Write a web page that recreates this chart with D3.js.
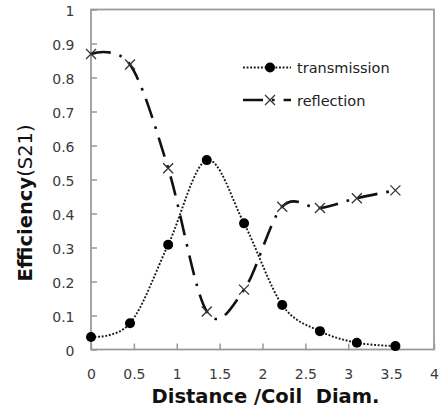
<!DOCTYPE html>
<html>
<head>
<meta charset="utf-8">
<script src="https://cdn.jsdelivr.net/npm/d3@7"></script>
<style>
  html, body { margin: 0; padding: 0; background: #fff; }
  svg { display: block; font-family: "DejaVu Sans", Verdana, sans-serif; }
</style>
</head>
<body>
<svg id="chart" width="440" height="409"></svg>
<script>
// Distance between coils, normalised by coil diameter
const distance = [0, 0.455, 0.9, 1.35, 1.785, 2.23, 2.67, 3.1, 3.55];
// Efficiency of each path at those distances
const transmission = [0.037, 0.077, 0.308, 0.557, 0.371, 0.131, 0.054, 0.02, 0.01];
const reflection   = [0.869, 0.838, 0.533, 0.112, 0.176, 0.42, 0.416, 0.445, 0.468];

const seriesNames = ["transmission", "reflection"];
const xTickValues = [0, 0.5, 1, 1.5, 2, 2.5, 3, 3.5, 4];
const xTickLabels = ["0", "0.5", "1", "1.5", "2", "2.5", "3", "3.5", "4"];
const yTickValues = [0, 0.1, 0.2, 0.3, 0.4, 0.5, 0.6, 0.7, 0.8, 0.9, 1];
const yTickLabels = ["0", "0.1", "0.2", "0.3", "0.4", "0.5", "0.6", "0.7", "0.8", "0.9", "1"];
const xTitle = "Distance /Coil  Diam.";
const yTitleBold = "Efficiency";
const yTitleRest = "(S21)";

const svg = d3.select("#chart");
const plot = { left: 91, right: 434, top: 9.5, bottom: 349.5 };

const x = d3.scaleLinear().domain([0, 4]).range([plot.left, plot.right]);
const y = d3.scaleLinear().domain([0, 1]).range([plot.bottom, plot.top]);

const axisColor = "#999";
const labelColor = "#3a3a3a";

// Y axis: ticks point into the plot
const yAxis = svg.append("g")
  .attr("transform", `translate(${plot.left},0)`)
  .call(d3.axisLeft(y)
    .tickValues(yTickValues)
    .tickFormat((d, i) => yTickLabels[i])
    .tickSizeInner(-6).tickSizeOuter(0).tickPadding(16.5));

// X axis
const xAxis = svg.append("g")
  .attr("transform", `translate(0,${plot.bottom})`)
  .call(d3.axisBottom(x)
    .tickValues(xTickValues)
    .tickFormat((d, i) => xTickLabels[i])
    .tickSizeInner(-6).tickSizeOuter(0).tickPadding(20));

[yAxis, xAxis].forEach(g => {
  g.select(".domain").remove();
  g.selectAll(".tick line").attr("stroke", axisColor).attr("stroke-width", 1.5);
  g.selectAll(".tick text")
    .attr("fill", labelColor)
    .style("font-size", "14px")
    .style("font-family", "'DejaVu Sans', Verdana, sans-serif");
});
yAxis.selectAll(".tick text").attr("dy", "0.41em");

// Plot frame
svg.append("rect")
  .attr("x", plot.left).attr("y", plot.top)
  .attr("width", plot.right - plot.left).attr("height", plot.bottom - plot.top)
  .attr("fill", "none").attr("stroke", axisColor).attr("stroke-width", 1.75);

// Smoothed series lines
const line = d3.line().curve(d3.curveCatmullRom.alpha(0))
  .x(d => x(d[0])).y(d => y(d[1]));

const transPts = distance.map((d, i) => [d, transmission[i]]);
const reflPts = distance.map((d, i) => [d, reflection[i]]);

const dotStyle = { stroke: "#1a1a1a", width: 1.9, dash: "1.9,1.7" };
const dashDotStyle = { stroke: "#111", width: 2.6, dash: "20,9,2.6,9" };

svg.append("path").datum(transPts)
  .attr("d", line).attr("fill", "none")
  .attr("stroke", dotStyle.stroke).attr("stroke-width", dotStyle.width)
  .attr("stroke-dasharray", dotStyle.dash);

svg.append("path").datum(reflPts)
  .attr("d", line).attr("fill", "none")
  .attr("stroke", dashDotStyle.stroke).attr("stroke-width", dashDotStyle.width)
  .attr("stroke-dasharray", dashDotStyle.dash);

// Markers
const crossPath = "M-5,-5L5,5M-5,5L5,-5";

svg.append("g").selectAll("circle").data(transPts).join("circle")
  .attr("cx", d => x(d[0])).attr("cy", d => y(d[1]))
  .attr("r", 5).attr("fill", "#000");

svg.append("g").selectAll("path").data(reflPts).join("path")
  .attr("transform", d => `translate(${x(d[0])},${y(d[1])})`)
  .attr("d", crossPath).attr("fill", "none")
  .attr("stroke", "#333").attr("stroke-width", 1.3);

// Legend
const legend = svg.append("g");
const legendRows = [
  { name: seriesNames[0], y: 67.5, style: dotStyle, marker: "circle" },
  { name: seriesNames[1], y: 100, style: dashDotStyle, marker: "cross" }
];
legendRows.forEach(r => {
  legend.append("line")
    .attr("x1", 243).attr("x2", 291).attr("y1", r.y).attr("y2", r.y)
    .attr("stroke", r.style.stroke).attr("stroke-width", r.style.width)
    .attr("stroke-dasharray", r.style.dash);
  if (r.marker === "circle") {
    legend.append("circle").attr("cx", 270).attr("cy", r.y).attr("r", 5).attr("fill", "#000");
  } else {
    legend.append("path").attr("transform", `translate(270,${r.y})`)
      .attr("d", crossPath).attr("fill", "none")
      .attr("stroke", "#333").attr("stroke-width", 1.3);
  }
  legend.append("text")
    .attr("x", 297).attr("y", r.y + 5.5)
    .attr("fill", "#222")
    .style("font-size", "14.5px")
    .text(r.name);
});

// Axis titles
svg.append("text")
  .attr("x", (plot.left + plot.right) / 2 + 3)
  .attr("y", 403)
  .attr("text-anchor", "middle")
  .attr("fill", "#111")
  .style("font-size", "19.5px")
  .style("font-weight", "bold")
  .style("white-space", "pre")
  .text(xTitle);

const yTitle = svg.append("text")
  .attr("transform", "translate(32,203) rotate(-90)")
  .attr("text-anchor", "middle")
  .attr("fill", "#111")
  .style("font-size", "19.5px");
yTitle.append("tspan").style("font-weight", "bold").text(yTitleBold);
yTitle.append("tspan").text(yTitleRest);
</script>
</body>
</html>
